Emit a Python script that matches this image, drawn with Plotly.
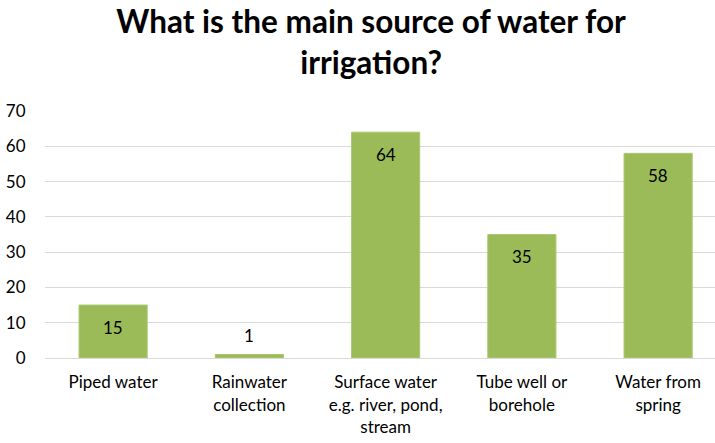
import plotly.graph_objects as go

# Survey responses: main source of water for irrigation
categories = [
    "Piped water",
    "Rainwater<br>collection",
    "Surface water<br>e.g. river, pond,<br>stream",
    "Tube well or<br>borehole",
    "Water from<br>spring",
]
counts = [15, 1, 64, 35, 58]
y_ticks = [0, 10, 20, 30, 40, 50, 60, 70]

FONT = "Lato"
BAR_COLOR = "#9bbb59"

fig = go.Figure(
    go.Bar(
        x=list(range(len(categories))),
        y=counts,
        width=0.5,
        marker=dict(color=BAR_COLOR, line=dict(color="#a9c870", width=1)),
        hoverinfo="skip",
    )
)

# Value labels: inside the top of tall bars, just above very short ones
for i, v in enumerate(counts):
    inside = v >= 5
    fig.add_annotation(
        x=i, y=v, text=str(v), showarrow=False,
        yanchor="middle",
        yshift=-22 if inside else 19,
        font=dict(family=FONT, size=17, color="#000000"),
    )

fig.update_layout(
    width=715, height=443,
    margin=dict(l=45, r=0, t=111, b=85),
    paper_bgcolor="white", plot_bgcolor="white",
    showlegend=False,
    title=dict(
        text="<b>What is the main source of water for<br>irrigation?</b>",
        x=0.519, xanchor="center", xref="container",
        y=0.925, yanchor="top", yref="container",
        font=dict(family=FONT, size=31.5, color="#000000"),
    ),
    xaxis=dict(
        range=[-0.5, -0.5 + 670 / 136.25],
        tickmode="array",
        tickvals=list(range(len(categories))),
        ticktext=categories,
        ticks="outside", ticklen=9, tickcolor="rgba(0,0,0,0)",
        showgrid=False, zeroline=False, showline=False,
        tickfont=dict(family=FONT, size=17, color="#000000"),
        fixedrange=True,
    ),
    yaxis=dict(
        range=[0, 70],
        tickvals=y_ticks,
        showgrid=True, gridcolor="#d9d9d9", gridwidth=1,
        zeroline=True, zerolinecolor="#d9d9d9", zerolinewidth=1,
        showline=False,
        ticks="outside", ticklen=15, tickcolor="rgba(0,0,0,0)",
        tickfont=dict(family=FONT, size=17, color="#000000"),
        fixedrange=True,
    ),
)

fig.write_html("out.html")
